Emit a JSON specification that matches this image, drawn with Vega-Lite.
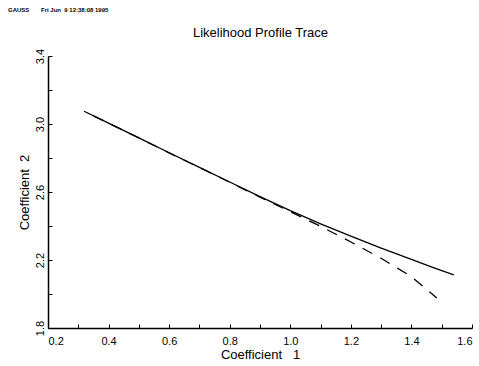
{
  "$schema": "https://vega.github.io/schema/vega-lite/v6.json",
  "width": 424,
  "height": 272,
  "autosize": "none",
  "padding": {"left": 48, "top": 56, "right": 7, "bottom": 38},
  "background": "white",
  "config": {
    "view": {"stroke": null},
    "font": "Liberation Sans",
    "axis": {
      "grid": false,
      "domainColor": "black",
      "tickColor": "black",
      "labelColor": "black",
      "titleColor": "black",
      "labelFont": "Liberation Sans",
      "titleFont": "Liberation Sans",
      "labelFontSize": 11,
      "titleFontSize": 13,
      "titleFontWeight": "normal",
      "domainWidth": 1.5,
      "tickWidth": 1
    }
  },
  "title": {
    "text": "GAUSS\u00a0\u00a0\u00a0\u00a0\u00a0\u00a0\u00a0Fri Jun\u00a0\u00a09 12:38:08 1995",
    "anchor": "start",
    "frame": "group",
    "dx": -40,
    "fontSize": 6,
    "fontWeight": "bold",
    "font": "Liberation Sans",
    "color": "black",
    "baseline": "alphabetic",
    "offset": 8
  },
  "data": {
    "values": [
      {"c1": 0.319, "c2": 3.075, "series": "solid"},
      {"c1": 0.4, "c2": 3.005, "series": "solid"},
      {"c1": 0.5, "c2": 2.918, "series": "solid"},
      {"c1": 0.6, "c2": 2.831, "series": "solid"},
      {"c1": 0.7, "c2": 2.745, "series": "solid"},
      {"c1": 0.8, "c2": 2.659, "series": "solid"},
      {"c1": 0.9, "c2": 2.573, "series": "solid"},
      {"c1": 1.0, "c2": 2.49, "series": "solid"},
      {"c1": 1.1, "c2": 2.413, "series": "solid"},
      {"c1": 1.2, "c2": 2.34, "series": "solid"},
      {"c1": 1.3, "c2": 2.27, "series": "solid"},
      {"c1": 1.4, "c2": 2.204, "series": "solid"},
      {"c1": 1.47, "c2": 2.156, "series": "solid"},
      {"c1": 1.54, "c2": 2.112, "series": "solid"},
      {"c1": 0.35, "c2": 3.048, "series": "dashed"},
      {"c1": 0.5, "c2": 2.918, "series": "dashed"},
      {"c1": 0.6, "c2": 2.83, "series": "dashed"},
      {"c1": 0.7, "c2": 2.744, "series": "dashed"},
      {"c1": 0.8, "c2": 2.657, "series": "dashed"},
      {"c1": 0.9, "c2": 2.57, "series": "dashed"},
      {"c1": 1.0, "c2": 2.484, "series": "dashed"},
      {"c1": 1.1, "c2": 2.398, "series": "dashed"},
      {"c1": 1.2, "c2": 2.306, "series": "dashed"},
      {"c1": 1.3, "c2": 2.21, "series": "dashed"},
      {"c1": 1.4, "c2": 2.102, "series": "dashed"},
      {"c1": 1.484, "c2": 1.976, "series": "dashed"}
    ]
  },
  "encoding": {
    "y": {
      "field": "c2",
      "type": "quantitative",
      "scale": {"domain": [1.8, 3.4], "nice": false, "zero": false},
      "axis": {
        "orient": "left",
        "values": [1.8, 2.0, 2.2, 2.4, 2.6, 2.8, 3.0, 3.2, 3.4],
        "labelExpr": "round(datum.value*5) % 2 == 1 ? format(datum.value, '.1f') : ''",
        "tickSize": -4,
        "labelAngle": -90,
        "labelAlign": "center",
        "labelBaseline": "alphabetic",
        "labelPadding": 9,
        "title": "Coefficient\u00a0\u00a02",
        "titlePadding": 3
      }
    }
  },
  "layer": [
    {
      "transform": [{"filter": "datum.series === 'solid'"}],
      "mark": {"type": "line", "color": "black", "strokeWidth": 1.3},
      "encoding": {
        "x": {
          "field": "c1",
          "type": "quantitative",
          "scale": {"domain": [0.2, 1.6], "nice": false, "zero": false},
          "axis": {
            "orient": "bottom",
            "values": [0.2, 0.3, 0.4, 0.5, 0.6, 0.7, 0.8, 0.9, 1.0, 1.1, 1.2, 1.3, 1.4, 1.5, 1.6],
            "labelExpr": "round(datum.value*10) % 2 == 0 ? format(datum.value, '.1f') : ''",
            "tickSize": -4,
            "labelPadding": 11,
            "title": "Coefficient\u00a0\u00a0\u00a01",
            "titlePadding": 2
          }
        }
      }
    },
    {
      "transform": [{"filter": "datum.series === 'dashed'"}],
      "mark": {"type": "line", "color": "black", "strokeWidth": 1.3, "strokeDash": [11, 9]},
      "encoding": {
        "x": {
          "field": "c1",
          "type": "quantitative",
          "scale": {"domain": [0.2, 1.6], "nice": false, "zero": false},
          "axis": {
            "orient": "top",
            "domain": false,
            "ticks": false,
            "labels": false,
            "title": "Likelihood Profile Trace",
            "titlePadding": 20,
            "titleBaseline": "alphabetic",
            "titleFontSize": 13
          }
        }
      }
    }
  ],
  "resolve": {"axis": {"x": "independent"}}
}
